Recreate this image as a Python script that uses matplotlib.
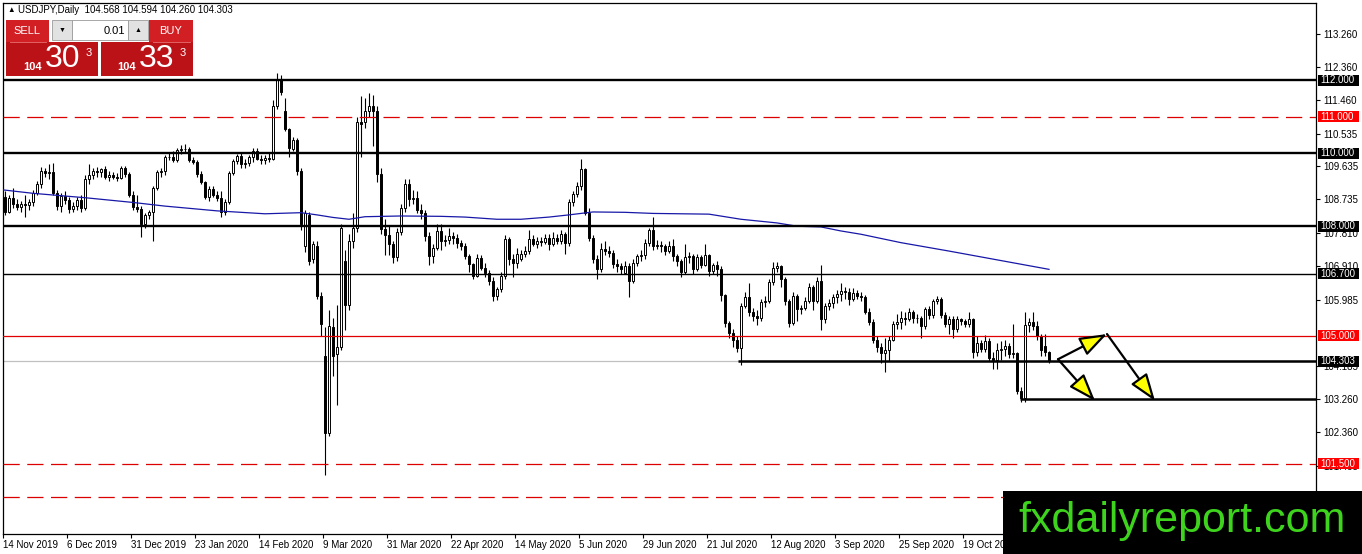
import matplotlib
matplotlib.use('Agg')
import matplotlib.pyplot as plt
from matplotlib.patches import Rectangle
import numpy as np

plt.rcParams['font.family'] = ['Liberation Sans', 'DejaVu Sans']

W, H = 1362, 554

# ---------------- data ----------------
opens = [108.80,108.40,108.78,108.60,108.52,108.62,108.58,108.66,108.92,109.15,
         109.52,109.45,109.48,108.92,108.55,108.82,108.72,108.48,108.55,108.72,
         108.50,109.30,109.40,109.52,109.47,109.56,109.35,109.40,109.36,109.33,
         109.58,109.42,108.85,108.52,108.48,108.05,108.30,108.38,109.05,109.47,
         109.50,109.88,109.90,109.80,110.08,110.10,110.12,109.80,109.76,109.42,
         109.20,108.80,109.02,108.85,108.78,108.38,108.65,109.45,109.78,109.92,
         109.70,109.74,109.88,110.06,109.85,109.82,109.86,109.85,111.30,112.00,
         111.15,110.65,110.10,110.35,109.50,107.45,108.30,107.10,107.45,106.10,
         104.45,102.35,105.25,104.50,104.70,107.05,105.85,107.60,107.96,110.85,
         110.85,111.15,111.29,111.15,109.42,107.92,107.75,107.50,107.15,107.85,
         108.50,109.15,108.75,108.78,108.45,108.37,107.73,107.19,107.41,107.87,
         107.60,107.62,107.73,107.68,107.55,107.45,107.19,106.96,106.64,107.14,
         106.87,106.73,106.51,106.09,106.28,106.64,107.64,107.10,107.00,107.10,
         107.23,107.32,107.64,107.51,107.60,107.56,107.69,107.51,107.69,107.60,
         107.78,107.55,108.65,108.87,109.10,109.56,108.37,107.69,107.10,106.82,
         107.37,107.32,107.28,106.96,106.91,106.73,106.91,106.51,107.00,107.19,
         107.22,107.55,107.90,107.46,107.48,107.45,107.32,107.46,107.18,107.05,
         106.74,107.15,107.18,106.83,107.15,106.93,107.20,106.78,106.93,106.82,
         106.11,105.36,105.08,104.90,104.67,105.83,106.05,105.64,105.55,105.50,
         105.92,105.96,106.46,106.87,106.90,106.55,105.96,105.36,106.10,105.73,
         105.75,105.96,106.33,105.96,106.51,105.45,105.82,105.90,106.05,106.15,
         106.22,106.20,106.00,106.18,106.10,106.07,105.66,105.38,104.90,104.70,
         104.53,104.60,104.90,105.33,105.38,105.49,105.45,105.64,105.49,105.50,
         105.28,105.73,105.58,105.95,106.00,105.58,105.32,105.45,105.18,105.45,
         105.40,105.32,105.45,104.56,104.81,104.63,104.86,104.40,104.33,104.60,
         104.64,104.72,104.50,104.52,103.50,103.30,105.30,105.37,105.28,105.00,
         104.72,104.568]
highs = [108.95,108.85,109.05,108.75,108.70,108.85,108.75,109.00,109.25,109.62,
         109.60,109.70,109.72,109.00,108.92,108.95,108.80,108.65,108.80,108.85,
         109.40,109.70,109.60,109.62,109.60,109.65,109.50,109.48,109.45,109.65,
         109.65,109.48,108.95,108.85,108.55,108.35,108.45,109.10,109.55,109.60,
         109.95,110.00,110.05,110.15,110.22,110.25,110.18,109.90,109.80,109.50,
         109.25,109.10,109.10,108.95,108.95,108.75,109.50,109.85,109.98,110.02,
         109.85,109.95,110.15,110.15,109.95,109.95,110.00,111.45,112.20,112.15,
         111.50,110.70,110.45,110.40,109.60,108.45,108.40,107.60,107.60,106.20,
         105.25,105.70,105.50,105.85,108.05,107.35,107.80,108.35,111.00,111.55,
         111.50,111.65,111.60,111.30,109.60,108.20,108.00,107.60,107.95,108.60,
         109.30,109.30,109.00,108.95,108.60,108.45,107.85,107.50,108.05,108.05,
         107.75,107.95,107.85,107.80,107.62,107.55,107.25,107.00,107.25,107.20,
         107.00,106.80,106.60,106.35,106.75,107.75,107.70,107.25,107.40,107.35,
         107.45,107.90,107.75,107.70,107.70,107.80,107.80,107.85,107.80,107.90,
         107.85,108.75,108.95,109.20,109.85,109.60,108.50,107.75,107.20,107.55,
         107.60,107.45,107.35,107.10,107.00,107.05,107.00,107.10,107.25,107.35,
         107.65,107.95,108.24,107.62,107.60,107.50,107.60,107.65,107.25,107.10,
         107.50,107.30,107.25,107.25,107.20,107.50,107.25,107.00,107.05,106.90,
         106.15,105.40,105.20,105.00,105.90,106.20,106.45,105.75,105.70,106.00,
         106.10,106.55,107.03,107.03,106.95,106.60,106.00,106.20,106.15,105.85,
         106.05,106.45,106.40,106.60,106.95,105.90,106.00,106.15,106.25,106.45,
         106.35,106.30,106.30,106.25,106.20,106.12,105.75,105.45,105.00,104.80,
         104.95,105.00,105.40,105.60,105.68,105.65,105.75,105.70,105.60,105.55,
         105.80,105.82,106.00,106.10,106.05,105.65,105.55,105.55,105.55,105.50,
         105.45,105.65,105.50,105.00,104.90,105.03,104.95,104.55,104.80,104.85,
         104.90,104.80,105.33,104.55,103.60,105.65,105.50,105.64,105.40,105.05,
         105.05,104.594]
lows = [108.30,108.35,108.50,108.45,108.40,108.25,108.45,108.55,108.85,109.05,
        109.35,109.30,108.85,108.45,108.40,108.60,108.35,108.40,108.45,108.40,
        108.45,109.15,109.30,109.35,109.35,109.30,109.25,109.28,109.25,109.30,
        109.35,108.80,108.45,108.40,107.70,107.95,108.20,107.60,109.00,109.35,
        109.40,109.80,109.75,109.75,109.98,110.00,109.75,109.70,109.35,109.15,
        108.75,108.70,108.80,108.70,108.25,108.30,108.60,109.40,109.70,109.60,
        109.60,109.65,109.75,109.80,109.70,109.70,109.75,109.80,111.20,111.60,
        110.60,109.90,110.05,109.40,107.90,107.30,106.95,107.00,106.00,105.00,
        101.20,102.25,103.90,103.10,104.60,105.15,105.70,107.40,107.85,109.90,
        110.70,111.00,110.20,109.20,107.80,107.20,107.20,107.00,107.05,107.75,
        108.40,108.55,108.60,108.35,108.20,107.60,106.95,107.00,107.35,107.35,
        107.45,107.50,107.50,107.40,107.35,107.10,106.75,106.55,106.60,106.80,
        106.60,106.40,105.96,105.98,106.20,106.55,106.95,106.60,106.85,107.05,
        107.15,107.25,107.45,107.40,107.45,107.50,107.35,107.45,107.50,107.50,
        107.25,107.45,108.55,108.80,109.00,108.30,107.60,107.00,106.55,106.75,
        107.20,107.15,106.85,106.75,106.70,106.70,106.05,106.45,106.90,107.05,
        107.10,107.45,107.35,107.38,107.30,107.20,107.28,107.05,106.90,106.62,
        106.70,107.00,106.68,106.78,106.85,106.90,106.65,106.70,106.65,105.95,
        105.25,104.95,104.70,104.55,104.20,105.75,105.55,105.40,105.30,105.40,
        105.80,105.90,106.40,106.75,106.35,105.85,105.25,105.30,105.40,105.60,
        105.70,105.90,105.70,105.90,105.15,105.35,105.70,105.75,105.90,105.95,
        106.00,105.85,105.95,106.00,105.95,105.60,105.30,104.80,104.55,104.27,
        104.00,104.30,104.85,105.20,105.20,105.30,105.40,105.35,105.35,104.95,
        105.20,105.45,105.50,105.88,105.50,105.25,105.05,104.95,105.10,105.30,
        105.25,105.25,104.40,104.45,104.55,104.55,104.30,104.08,104.10,104.35,
        104.45,104.40,104.40,103.40,103.18,103.20,105.10,105.15,104.90,104.45,
        104.45,104.260]
closes = [108.40,108.78,108.60,108.52,108.62,108.58,108.66,108.92,109.15,109.52,
          109.45,109.48,108.92,108.55,108.82,108.72,108.48,108.55,108.72,108.50,
          109.30,109.40,109.52,109.47,109.56,109.35,109.40,109.36,109.33,109.58,
          109.42,108.85,108.52,108.48,108.05,108.30,108.38,109.05,109.47,109.50,
          109.88,109.90,109.80,110.08,110.10,110.12,109.80,109.76,109.42,109.20,
          108.80,109.02,108.85,108.78,108.38,108.65,109.45,109.78,109.92,109.70,
          109.74,109.88,110.06,109.85,109.82,109.86,109.85,111.30,112.00,111.68,
          110.65,110.15,110.35,109.50,108.05,108.35,107.05,107.50,106.10,105.32,
          102.35,105.27,104.45,104.70,107.96,105.85,107.60,107.96,110.85,110.80,
          111.15,111.29,111.15,109.42,107.92,107.75,107.50,107.15,107.85,108.50,
          109.15,108.75,108.78,108.45,108.37,107.73,107.19,107.41,107.87,107.60,
          107.62,107.73,107.68,107.55,107.45,107.19,106.96,106.64,107.14,106.87,
          106.73,106.51,106.09,106.28,106.64,107.64,107.10,107.00,107.23,107.23,
          107.32,107.64,107.51,107.60,107.56,107.69,107.51,107.69,107.60,107.78,
          107.55,108.65,108.87,109.10,109.56,108.37,107.69,107.10,106.82,107.37,
          107.32,107.28,106.96,106.91,106.82,106.91,106.51,107.00,107.19,107.22,
          107.55,107.90,107.46,107.48,107.45,107.32,107.46,107.18,107.05,106.74,
          107.15,107.18,106.83,107.15,106.93,107.20,106.78,106.93,106.82,106.11,
          105.36,105.08,104.90,104.67,105.83,106.05,105.64,105.55,105.50,105.92,
          105.96,106.46,106.87,106.90,106.55,105.96,105.36,106.10,105.73,105.75,
          105.96,106.33,105.96,106.51,105.45,105.82,105.90,106.05,106.15,106.22,
          106.20,106.00,106.18,106.10,106.07,105.66,105.38,104.90,104.70,104.53,
          104.60,104.90,105.33,105.38,105.49,105.45,105.64,105.49,105.50,105.28,
          105.73,105.58,105.95,106.00,105.58,105.32,105.45,105.18,105.45,105.40,
          105.32,105.45,104.56,104.81,104.63,104.86,104.40,104.33,104.60,104.64,
          104.72,104.50,104.52,103.50,103.30,105.30,105.37,105.28,105.00,104.60,
          104.57,104.303]

ma_idx = [-1, 7, 20, 32, 40, 53, 65, 74, 78, 82, 86, 90, 99, 109, 115, 123, 129,
          136, 141, 147, 155, 162, 176, 184, 193, 198, 204, 209, 214, 224, 236,
          247, 253, 261]
ma_val = [109.00, 108.90, 108.78, 108.65, 108.55, 108.42, 108.34, 108.37, 108.31,
          108.24, 108.19, 108.26, 108.28, 108.27, 108.25, 108.19, 108.19, 108.25,
          108.31, 108.39, 108.38, 108.35, 108.33, 108.19, 108.09, 108.00, 107.98,
          107.87, 107.78, 107.55, 107.32, 107.10, 106.98, 106.82]

date_idx = [0, 16, 32, 48, 64, 80, 96, 112, 128, 144, 160, 176, 192, 208, 224, 240]
date_labels = ['14 Nov 2019', '6 Dec 2019', '31 Dec 2019', '23 Jan 2020',
               '14 Feb 2020', '9 Mar 2020', '31 Mar 2020', '22 Apr 2020',
               '14 May 2020', '5 Jun 2020', '29 Jun 2020', '21 Jul 2020',
               '12 Aug 2020', '3 Sep 2020', '25 Sep 2020', '19 Oct 2020']

price_ticks = [113.26, 112.36, 111.46, 110.535, 109.635, 108.735, 107.81,
               106.91, 105.985, 104.185, 103.26, 102.36, 101.435]

thick_levels = [112.0, 110.0, 108.0]
thin_black_level = 106.7
red_solid_level = 105.0
red_dashed_levels = [111.0, 101.5, 100.6]
current_price = 104.303
current_seg_start = 183.3
support_level = 103.26
support_seg_start = 253.8

label_levels = [112.0, 111.0, 110.0, 108.0, 106.7, 105.0, 104.303, 101.5]
label_colors = ['black', '#ff0000', 'black', 'black', 'black', '#ff0000', 'black', '#ff0000']

arrow_starts = [(263.25, 104.36), (275.5, 105.05), (263.25, 104.36)]
arrow_ends = [(275.5, 105.05), (287.5, 103.22), (272.5, 103.22)]

header_symbol = 'USDJPY,Daily'
header_ohlc = '104.568 104.594 104.260 104.303'

# ---------------- figure ----------------
fig = plt.figure(figsize=(W / 100, H / 100), dpi=100)
fig.patch.set_facecolor('white')
ax = fig.add_axes([3 / W, (H - 534) / H, (1316 - 3) / W, (534 - 3) / H])
XMAX = 327.75
ax.set_xlim(-0.5, XMAX)
ax.set_ylim(99.579, 114.107)
px_per_unit = 36.55  # vertical pixels per 1.0 of price at this size

o = np.array(opens); h = np.array(highs); l = np.array(lows); c = np.array(closes)
x = np.arange(len(c))
up = c >= o
ax.vlines(x, l, h, color='black', lw=0.8, zorder=2)
bottom = np.minimum(o, c)
height = np.maximum(np.abs(c - o), 0.004)
ax.bar(x, height, bottom=bottom, width=0.7,
       color=np.where(up, 'white', 'black'), edgecolor='black',
       linewidth=0.7, zorder=2.5)

ax.plot(ma_idx, ma_val, color='#1818a8', lw=0.9, zorder=2.8)

for lv in thick_levels:
    ax.axhline(lv, color='black', lw=1.7, zorder=3)
ax.axhline(thin_black_level, color='black', lw=1.0, zorder=3)
ax.axhline(red_solid_level, color='#e00000', lw=0.9, zorder=3)
for lv in red_dashed_levels:
    ax.axhline(lv, color='#dd0000', lw=0.9, dashes=(13, 6), zorder=3)
ax.axhline(current_price, color='#c0c0c0', lw=0.9, zorder=1.5)
ax.hlines(current_price, current_seg_start, XMAX, color='black', lw=1.8, zorder=3)
ax.hlines(support_level, support_seg_start, XMAX, color='black', lw=1.8, zorder=3)

for s, e in zip(arrow_starts, arrow_ends):
    ax.annotate('', xy=e, xytext=s,
                arrowprops=dict(arrowstyle='-|>,head_length=1.4,head_width=0.5',
                                mutation_scale=12, fc='#ffff00', ec='black',
                                lw=1.6, shrinkA=0, shrinkB=0),
                zorder=4)

for sp in ax.spines.values():
    sp.set_color('black')
    sp.set_linewidth(0.9)

ax.set_xticks([d - 0.5 for d in date_idx])
ax.set_xticklabels(date_labels, ha='left', fontsize=7)
ax.tick_params(axis='x', length=3, width=0.8, pad=1.5, direction='out')

ax.yaxis.tick_right()
ax.set_yticks(price_ticks)
ax.set_yticklabels([f'{v:.3f}' for v in price_ticks], fontsize=7)
ax.tick_params(axis='y', length=3, width=0.8, pad=2, direction='out')

ytr = ax.get_yaxis_transform()
box_w = 41 / 1313
box_hh = 5.5 / px_per_unit
for lv, col in zip(label_levels, label_colors):
    ax.add_patch(Rectangle((1.0015, lv - box_hh), box_w, 2 * box_hh, transform=ytr,
                           fc=col, ec='none', zorder=5.5, clip_on=False))
    ax.text(1.0035, lv, f'{lv:.3f}', transform=ytr, color='white', fontsize=7,
            va='center', ha='left', zorder=6, clip_on=False)

# ---------------- overlay (header, trade panel, watermark) ----------------
ov = fig.add_axes([0, 0, 1, 1], zorder=10)
ov.set_xlim(0, W)
ov.set_ylim(H, 0)
ov.axis('off')

ov.text(7, 10, '▲', fontsize=5.5, va='center', ha='left', color='black')
ov.text(18, 10, header_symbol + '  ' + header_ohlc, fontsize=7, va='center', ha='left')

red_top = '#d11f24'
red_low = '#bb1218'
ov.add_patch(Rectangle((6, 20), 43, 22, fc=red_top, ec='none'))
ov.add_patch(Rectangle((149, 20), 44, 22, fc=red_top, ec='none'))
ov.add_patch(Rectangle((6, 42), 92, 34, fc=red_low, ec='none'))
ov.add_patch(Rectangle((101, 42), 92, 34, fc=red_low, ec='none'))
ov.plot([10, 46], [41.5, 41.5], color='#e87070', lw=0.6)
ov.plot([153, 190], [41.5, 41.5], color='#e87070', lw=0.6)
ov.add_patch(Rectangle((52, 20), 20, 20, fc='#e2e2e2', ec='#9a9a9a', lw=0.6))
ov.add_patch(Rectangle((72, 20), 56, 20, fc='white', ec='#9a9a9a', lw=0.6))
ov.add_patch(Rectangle((128, 20), 20, 20, fc='#e2e2e2', ec='#9a9a9a', lw=0.6))
ov.text(27, 30.5, 'SELL', color='white', fontsize=8, ha='center', va='center')
ov.text(171, 30.5, 'BUY', color='white', fontsize=8, ha='center', va='center')
ov.text(125, 30.5, '0.01', color='black', fontsize=8, ha='right', va='center')
ov.text(62, 30, '▼', color='black', fontsize=5, ha='center', va='center')
ov.text(138, 30, '▲', color='black', fontsize=5, ha='center', va='center')

ov.text(33, 67, '104', color='white', fontsize=8, fontweight='bold', ha='center', va='center')
ov.text(63, 59, '30', color='white', fontsize=23, ha='center', va='center')
ov.text(88.5, 53, '3', color='white', fontsize=8, ha='center', va='center')
ov.text(127, 67, '104', color='white', fontsize=8, fontweight='bold', ha='center', va='center')
ov.text(157, 59, '33', color='white', fontsize=23, ha='center', va='center')
ov.text(182.5, 53, '3', color='white', fontsize=8, ha='center', va='center')

ov.add_patch(Rectangle((1003, 491), W - 1003, H - 491, fc='black', ec='none'))
ov.text(1182, 521, 'fxdailyreport.com', color='#3ed41e', fontsize=31,
        ha='center', va='center', family='Liberation Sans')

fig.savefig('out.png', dpi=100, facecolor='white')
